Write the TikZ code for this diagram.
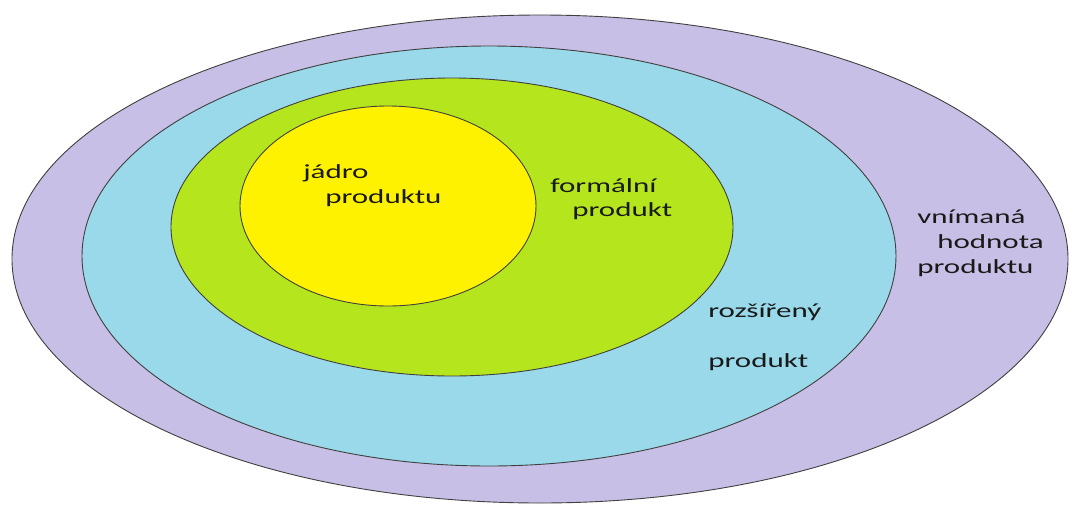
\documentclass[tikz,border=0pt]{standalone}
\usepackage{fontspec}
\setmainfont{Carlito}
\definecolor{cpurple}{HTML}{C7BFE5}
\definecolor{cblue}{HTML}{99D9EA}
\definecolor{cgreen}{HTML}{B5E51D}
\definecolor{cyellow}{HTML}{FFF200}
\begin{document}
\begin{tikzpicture}[x=1pt,y=-1pt,
  ring/.style={draw=black!75,line width=0.9pt},
  lbl/.style={anchor=base west,inner sep=0pt,font=\fontsize{20}{24}\selectfont,xscale=1.55,text=black!90}]
\useasboundingbox (0,0) rectangle (1077,504);
\fill[cpurple,ring] (540,259) ellipse [x radius=528, y radius=244];
\fill[cblue,ring] (489,256) ellipse [x radius=407, y radius=210];
\fill[cgreen,ring] (452,227) ellipse [x radius=281, y radius=149];
\fill[cyellow,ring] (388,206) ellipse [x radius=148, y radius=100];
\node[lbl] (j1) at (303,178) {jádro};
\node[lbl] (j2) at (325,203) {produktu};
\node[lbl] (f1) at (550,192) {formální};
\node[lbl] (f2) at (572,216) {produkt};
\node[lbl] (v1) at (917,223) {vnímaná};
\node[lbl] (v2) at (937,248) {hodnota};
\node[lbl] (v3) at (917,273) {produktu};
\node[lbl] (r1) at (708,317) {rozšířený};
\node[lbl] (r2) at (708,367) {produkt};
\end{tikzpicture}
\end{document}
